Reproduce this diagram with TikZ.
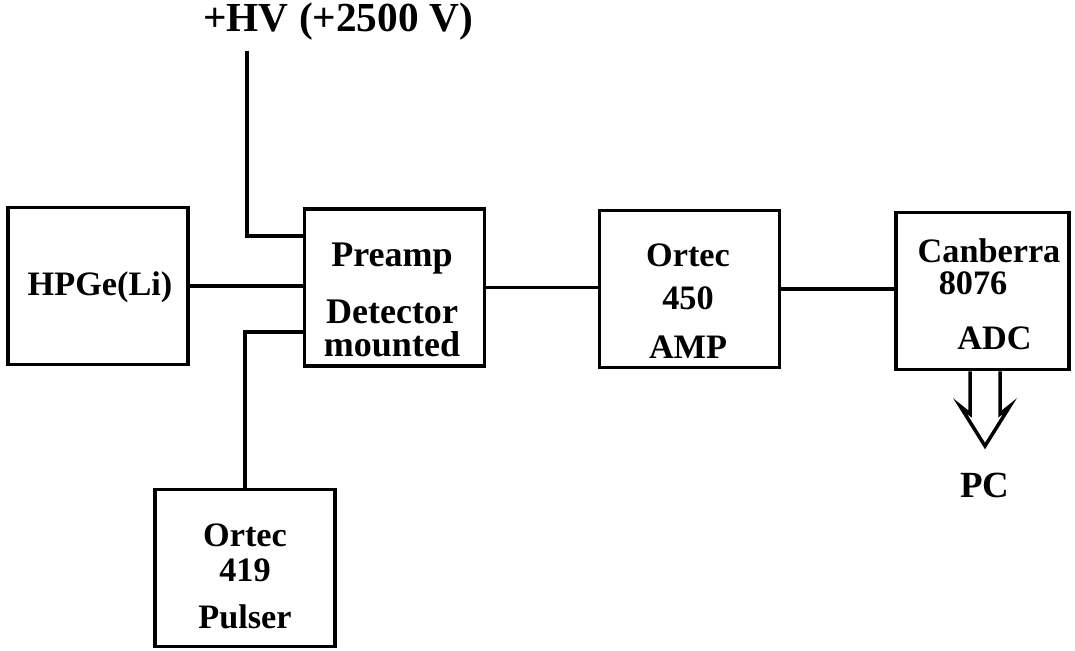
\documentclass[tikz,border=0pt]{standalone}
\usepackage{fontspec}
\setmainfont{Liberation Serif}
\usepackage{tikz}

\begin{document}
\begin{tikzpicture}[
    x=0.02cm, y=-0.02cm,
    unit/.style={draw, line width=2.2pt, minimum width=3.6cm, minimum height=3.14cm, inner sep=0pt},
    txt/.style={align=center, inner sep=0pt, font=\fontsize{19.5}{20}\selectfont\bfseries},
    wire/.style={line width=2.2pt},
    hollow/.style={line width=2pt, line join=miter},
]
\useasboundingbox (0,0) rectangle (1075,651);

% boxes
\node[unit] (hpge)   at (98,286)    {};
\node[unit] (preamp) at (394.5,287.5) {};
\node[unit] (amp)    at (689.5,289) {};
\node[unit, minimum width=3.46cm] (adc) at (982.5,291) {};
\node[unit] (pulser) at (245,568)   {};

% texts
\node[txt] (hpgetxt)   at (100,287) {HPGe(Li)};
\node[txt, font=\fontsize{20.5}{20}\selectfont\bfseries] (preamptxt) at (392,300) {Preamp\\[0.43cm]Detector\\[-0.05cm]mounted};
\node[txt] (amptxt)    at (688,301.5) {Ortec\\[0.15cm]450\\[0.29cm]AMP};
\node[txt] (adctxt)    at (989,294) {Canberra\\[-0.05cm]8076\kern0.64cm\\[0.39cm]\kern0.22cm ADC};
\node[txt] (pulsertxt) at (245,576) {Ortec\\419\\[0.23cm]Pulser};
\node[txt, font=\fontsize{23.5}{24}\selectfont\bfseries] (hvtxt) at (338,22) {+HV (+2500 V)};
\node[txt, font=\fontsize{21}{24}\selectfont\bfseries] (pctxt) at (985,485) {PC};

% high voltage and pulser inputs
\coordinate (hvtop) at (247,51);
\coordinate (hvlevel) at (0,236);
\coordinate (pulselevel) at (0,332);
\draw[wire] (hvtop) |- (preamp.west |- hvlevel);
\draw[wire] (pulser.north) |- (preamp.west |- pulselevel);

% signal chain
\draw[wire] (hpge.east) -- (hpge.east -| preamp.west);
\draw[wire] (preamp.east) -- (preamp.east -| amp.west);
\draw[wire] (amp.east) -- (amp.east -| adc.west);

% output to PC
\draw[hollow] (adc.south -| 970,0) -- (970,414) -- (960,406) -- (985,446)
    -- (1010,406) -- (1000,414) -- (adc.south -| 1000,0);

\end{tikzpicture}
\end{document}
